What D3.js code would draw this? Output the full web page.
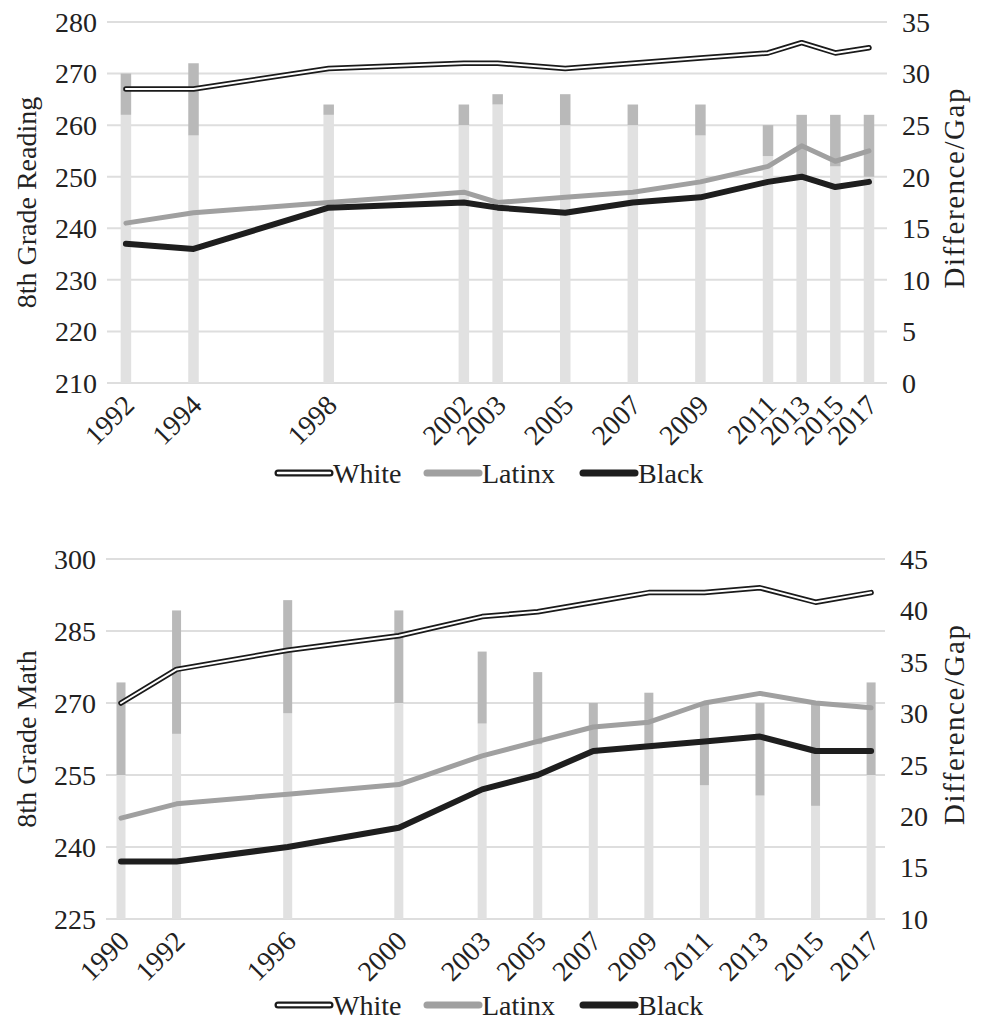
<!DOCTYPE html>
<html>
<head>
<meta charset="utf-8">
<script src="https://cdn.jsdelivr.net/npm/d3@7/dist/d3.min.js"></script>
<style>
  html, body { margin: 0; padding: 0; background: #fff; }
  svg { display: block; }
</style>
</head>
<body>
<svg id="chart" width="989" height="1023" font-family="Liberation Serif, Times New Roman, serif"></svg>
<script>
// ---------- Data: 8th grade reading ----------
const readingYears  = [1992, 1994, 1998, 2002, 2003, 2005, 2007, 2009, 2011, 2013, 2015, 2017];
const readingWhite  = [267, 267, 271, 272, 272, 271, 272, 273, 274, 276, 274, 275];
const readingLatinx = [241, 243, 245, 247, 245, 246, 247, 249, 252, 256, 253, 255];
const readingBlack  = [237, 236, 244, 245, 244, 243, 245, 246, 249, 250, 248, 249];
const readingGapLatinx = [26, 24, 26, 25, 27, 25, 25, 24, 22, 20, 21, 20];
const readingGapBlack  = [30, 31, 27, 27, 28, 28, 27, 27, 25, 26, 26, 26];
const readingLeftTicks  = [210, 220, 230, 240, 250, 260, 270, 280];
const readingRightTicks = [0, 5, 10, 15, 20, 25, 30, 35];

// ---------- Data: 8th grade math ----------
const mathYears  = [1990, 1992, 1996, 2000, 2003, 2005, 2007, 2009, 2011, 2013, 2015, 2017];
const mathWhite  = [270, 277, 281, 284, 288, 289, 291, 293, 293, 294, 291, 293];
const mathLatinx = [246, 249, 251, 253, 259, 262, 265, 266, 270, 272, 270, 269];
const mathBlack  = [237, 237, 240, 244, 252, 255, 260, 261, 262, 263, 260, 260];
const mathGapLatinx = [24, 28, 30, 31, 29, 27, 26, 27, 23, 22, 21, 24];
const mathGapBlack  = [33, 40, 41, 40, 36, 34, 31, 32, 31, 31, 31, 33];
const mathLeftTicks  = [225, 240, 255, 270, 285, 300];
const mathRightTicks = [10, 15, 20, 25, 30, 35, 40, 45];

const legendLabels = ["White", "Latinx", "Black"];

// ---------- Drawing ----------
const svg = d3.select("#chart");
const FONT = "Liberation Serif, Times New Roman, serif";
const TXT = "#222";

function drawPanel(p) {
  const g = svg.append("g").attr("font-family", FONT).attr("fill", TXT);
  const x = d3.scaleLinear().domain(p.xDomain).range(p.xRange);
  const yL = d3.scaleLinear().domain(p.leftDomain).range([p.bottom, p.top]);
  const yR = d3.scaleLinear().domain(p.rightDomain).range([p.bottom, p.top]);
  const left = p.xRange[0], right = p.xRange[p.xRange.length - 1];

  // gridlines
  g.append("g").selectAll("line").data(p.leftTicks).join("line")
    .attr("x1", left).attr("x2", right)
    .attr("y1", d => yL(d)).attr("y2", d => yL(d))
    .attr("stroke", "#dedede").attr("stroke-width", 2);

  // left tick labels
  g.append("g").selectAll("text").data(p.leftTicks).join("text")
    .attr("x", left - 10).attr("y", d => yL(d)).attr("dy", "0.35em")
    .attr("text-anchor", "end").attr("font-size", 28).text(d => d);

  // right tick labels
  g.append("g").selectAll("text").data(p.rightTicks).join("text")
    .attr("x", right + 15).attr("y", d => yR(d)).attr("dy", "0.35em")
    .attr("text-anchor", "start").attr("font-size", 28).text(d => d);

  // bars: light = White–Latinx gap, dark = extension to White–Black gap
  const bw = p.barWidth;
  const rows = p.years.map((yr, i) => ({ yr, gl: p.gapLatinx[i], gb: p.gapBlack[i] }));
  g.append("g").selectAll("rect").data(rows).join("rect")
    .attr("x", d => x(d.yr) - bw / 2).attr("width", bw)
    .attr("y", d => yR(Math.min(d.gl, d.gb)))
    .attr("height", d => yR(p.rightDomain[0]) - yR(Math.min(d.gl, d.gb)))
    .attr("fill", "#e1e1e1");
  g.append("g").selectAll("rect").data(rows).join("rect")
    .attr("x", d => x(d.yr) - bw / 2).attr("width", bw)
    .attr("y", d => yR(Math.max(d.gl, d.gb)))
    .attr("height", d => Math.abs(yR(d.gl) - yR(d.gb)))
    .attr("fill", "#b9b9b9");

  // lines
  const line = d3.line().x(d => x(d[0])).y(d => yL(d[1]));
  const pts = arr => p.years.map((yr, i) => [yr, arr[i]]);
  const lg = g.append("g").attr("fill", "none").attr("stroke-linejoin", "round").attr("stroke-linecap", "round");
  lg.append("path").attr("d", line(pts(p.white))).attr("stroke", "#1a1a1a").attr("stroke-width", 5.5);
  lg.append("path").attr("d", line(pts(p.white))).attr("stroke", "#ffffff").attr("stroke-width", 2);
  lg.append("path").attr("d", line(pts(p.latinx))).attr("stroke", "#a0a0a0").attr("stroke-width", 5);
  lg.append("path").attr("d", line(pts(p.black))).attr("stroke", "#1e1e1e").attr("stroke-width", 6);

  // x labels
  g.append("g").selectAll("text").data(p.years).join("text")
    .attr("transform", d => `translate(${x(d) + p.labelDx},${p.bottom + p.labelDy}) rotate(-45)`)
    .attr("text-anchor", "end").attr("dy", "0.35em")
    .attr("font-size", 28).text(d => d);

  // axis titles
  const cy = (p.top + p.bottom) / 2;
  g.append("text").attr("transform", `translate(${p.leftTitleX},${cy}) rotate(-90)`)
    .attr("text-anchor", "middle").attr("font-size", 28).text(p.leftTitle);
  g.append("text").attr("transform", `translate(${p.rightTitleX},${cy - 14}) rotate(-90)`)
    .attr("text-anchor", "middle").attr("font-size", 29)
    .attr("textLength", 200).attr("lengthAdjust", "spacing").text("Difference/Gap");

  // legend
  const lx = [278, 427, 583];
  const leg = g.append("g").attr("transform", `translate(0,${p.legendY})`);
  legendLabels.forEach((lab, i) => {
    const x0 = lx[i], x1 = x0 + 52;
    if (lab === "White") {
      leg.append("line").attr("x1", x0).attr("x2", x1).attr("stroke", "#1a1a1a").attr("stroke-width", 7).attr("stroke-linecap", "round");
      leg.append("line").attr("x1", x0).attr("x2", x1).attr("stroke", "#fff").attr("stroke-width", 2.5).attr("stroke-linecap", "round");
    } else {
      leg.append("line").attr("x1", x0).attr("x2", x1)
        .attr("stroke", lab === "Latinx" ? "#a0a0a0" : "#1e1e1e").attr("stroke-width", 7).attr("stroke-linecap", "round");
    }
    leg.append("text").attr("x", x1 + 3).attr("y", 0).attr("dy", "0.35em")
      .attr("font-size", 28).text(lab);
  });
}

drawPanel({
  years: readingYears, white: readingWhite, latinx: readingLatinx, black: readingBlack,
  gapLatinx: readingGapLatinx, gapBlack: readingGapBlack,
  leftTicks: readingLeftTicks, rightTicks: readingRightTicks,
  xDomain: [1991.44, 2011, 2018.07], xRange: [107, 768, 887],
  leftDomain: [210, 280], rightDomain: [0, 35], top: 22, bottom: 383,
  barWidth: 10.5, labelDx: 3, labelDy: 17,
  leftTitle: "8th Grade Reading", leftTitleX: 36, rightTitleX: 964, legendY: 473
});

drawPanel({
  years: mathYears, white: mathWhite, latinx: mathLatinx, black: mathBlack,
  gapLatinx: mathGapLatinx, gapBlack: mathGapBlack,
  leftTicks: mathLeftTicks, rightTicks: mathRightTicks,
  xDomain: [1989.46, 2017.5], xRange: [106, 885],
  leftDomain: [225, 300], rightDomain: [10, 45], top: 559, bottom: 919,
  barWidth: 9, labelDx: 3, labelDy: 17,
  leftTitle: "8th Grade Math", leftTitleX: 36, rightTitleX: 964, legendY: 1005
});
</script>
</body>
</html>
